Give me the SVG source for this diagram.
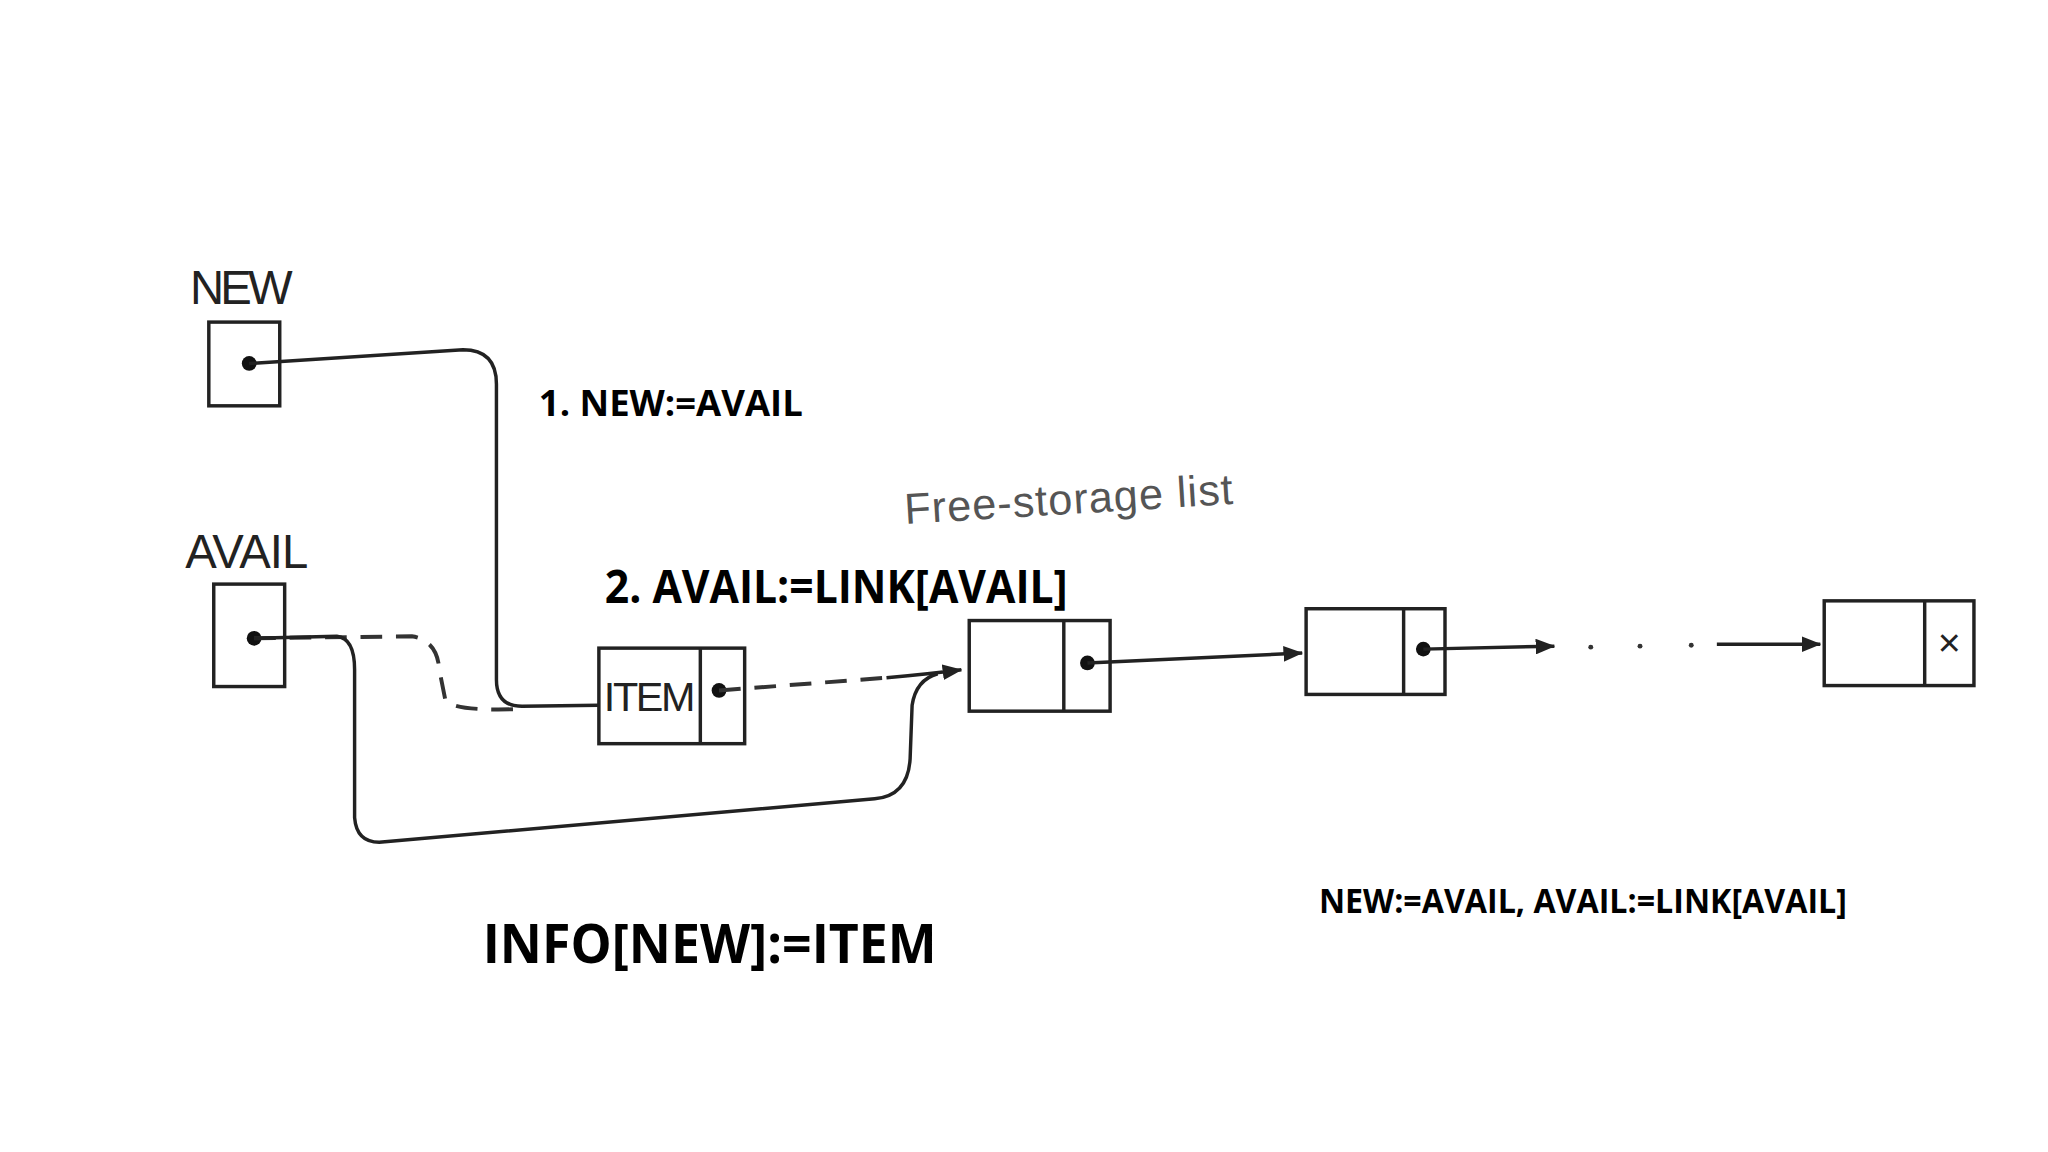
<svg xmlns="http://www.w3.org/2000/svg" width="2048" height="1152" viewBox="0 0 2048 1152">
<style>
.b{fill:#fff;stroke:#222;stroke-width:3.5}
.l{fill:none;stroke:#222;stroke-width:3.5}
.d{fill:none;stroke:#333;stroke-width:4;stroke-dasharray:22 14}
.h{font-family:"Liberation Sans",Arial,sans-serif;fill:#222}
.c{font-family:"Open Sans","Liberation Sans",sans-serif;font-weight:bold;fill:#000}
</style>
<defs>
<marker id="ar" markerWidth="20" markerHeight="16" refX="19" refY="8" orient="auto" markerUnits="userSpaceOnUse" viewBox="0 0 20 16"><path d="M0,0 L20,8 L0,16 z" fill="#222"/></marker>
</defs>
<rect width="2048" height="1152" fill="#fff"/>
<g transform="scale(0.985)">
<g id="new"><text class="h" x="193" y="309" font-size="48" textLength="104">NEW</text><rect class="b" x="212" y="327" width="72" height="85"/><circle cx="253" cy="369" r="7.5" fill="#111"/></g>
<g id="avail"><text class="h" x="188" y="577" font-size="48" textLength="125">AVAIL</text><rect class="b" x="217" y="593" width="72" height="104"/><circle cx="258" cy="648" r="7.5" fill="#111"/></g>
<g id="item"><rect class="b" x="608" y="658" width="148" height="97"/><line class="l" x1="711" y1="658" x2="711" y2="755"/><text class="h" x="613" y="722" font-size="42" textLength="93">ITEM</text><circle cx="730" cy="701" r="7.5" fill="#111"/></g>
<g id="n2"><rect class="b" x="984" y="630" width="143" height="92"/><line class="l" x1="1080" y1="630" x2="1080" y2="722"/><circle cx="1104" cy="673" r="7.5" fill="#111"/></g>
<g id="n3"><rect class="b" x="1326" y="618" width="141" height="87"/><line class="l" x1="1425" y1="618" x2="1425" y2="705"/><circle cx="1445" cy="659" r="7.5" fill="#111"/></g>
<g id="n4"><rect class="b" x="1852" y="610" width="152" height="86"/><line class="l" x1="1954" y1="610" x2="1954" y2="696"/><text class="h" x="1979" y="666" font-size="40" text-anchor="middle">×</text></g>
<g id="connectors">
<path class="l" d="M253,369 L470,355 Q504,355 504,390 L504,690 Q504,717 530,717 L608,716"/>
<path class="d" d="M258,648 L418,646 Q444,650 446,680 L452,710 Q458,722 523,720"/>
<path class="d" d="M730,701 L900,688"/>
<path class="l" d="M900,688 Q945,684 976,680" marker-end="url(#ar)"/>
<path class="l" d="M258,648 L342,646 Q360,648 360,680 L360,830 Q362,855 385,855 L888,811 Q922,808 924,770 L926,716 Q930,690 952,684"/>
<path class="l" d="M1104,673 L1322,663" marker-end="url(#ar)"/>
<path class="l" d="M1445,659 L1578,656" marker-end="url(#ar)"/>
<path class="l" d="M1743,654 L1848,654" marker-end="url(#ar)"/>
<g fill="#333"><circle cx="1615" cy="657" r="2.5"/><circle cx="1665" cy="656" r="2.5"/><circle cx="1717" cy="655" r="2.5"/></g>
</g>
<text class="h" x="919" y="532" font-size="44" style="fill:#555" textLength="334" transform="rotate(-3.5 919 532)">Free-storage list</text>
<text class="c" x="547" y="422" font-size="36" textLength="268" lengthAdjust="spacingAndGlyphs">1. NEW:=AVAIL</text>
<text class="c" x="614" y="612" font-size="48" textLength="470" lengthAdjust="spacingAndGlyphs">2. AVAIL:=LINK[AVAIL]</text>
<text class="c" x="1339" y="927" font-size="35" textLength="536" lengthAdjust="spacingAndGlyphs">NEW:=AVAIL, AVAIL:=LINK[AVAIL]</text>
<text class="c" x="490" y="978" font-size="54" textLength="461" lengthAdjust="spacingAndGlyphs">INFO[NEW]:=ITEM</text>
</g>
</svg>
